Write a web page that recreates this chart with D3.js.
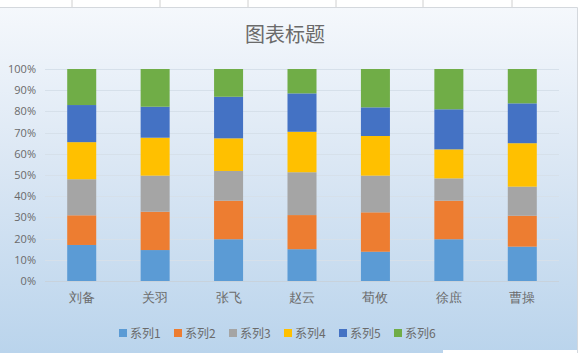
<!DOCTYPE html>
<html>
<head>
<meta charset="utf-8">
<script src="https://cdn.jsdelivr.net/npm/d3@7"></script>
<style>
  body { margin: 0; background: #fff; }
  svg { display: block; font-family: "Noto Sans CJK SC", "Noto Sans", sans-serif; }
</style>
</head>
<body>
<div id="chart"></div>
<script>
const categories = ["刘备", "关羽", "张飞", "赵云", "荀攸", "徐庶", "曹操"];
const seriesNames = ["系列1", "系列2", "系列3", "系列4", "系列5", "系列6"];
const s1 = [17, 14.6, 19.7, 15, 13.8, 19.7, 16.2];
const s2 = [14, 18.1, 18.2, 16.1, 18.6, 18.2, 14.6];
const s3 = [17, 17, 14, 20.2, 17.3, 10.5, 13.7];
const s4 = [17.5, 17.9, 15.4, 19.1, 18.7, 13.7, 20.5];
const s5 = [17.5, 14.6, 19.6, 18.1, 13.5, 18.9, 18.8];
const s6 = [17, 17.8, 13.1, 11.5, 18.1, 19, 16.2];
const yTicks = [0, 0.1, 0.2, 0.3, 0.4, 0.5, 0.6, 0.7, 0.8, 0.9, 1];
const colors = ["#5b9bd5", "#ed7d31", "#a5a5a5", "#ffc000", "#4472c4", "#70ad47"];

function drawChart() {
  const width = 580, height = 353;
  const svg = d3.select("#chart").append("svg")
    .attr("width", width)
    .attr("height", height);

  // gradient background like Excel style
  const grad = svg.append("defs").append("linearGradient")
    .attr("id", "bg").attr("x1", 0).attr("y1", 0).attr("x2", 0).attr("y2", 1);
  grad.append("stop").attr("offset", "0%").attr("stop-color", "#f5f8fc");
  grad.append("stop").attr("offset", "45%").attr("stop-color", "#dbe7f4");
  grad.append("stop").attr("offset", "100%").attr("stop-color", "#bad4ec");

  // spreadsheet cell lines above the chart
  svg.selectAll(".cell")
    .data([72, 160, 248, 336, 423, 512])
    .join("line")
    .attr("x1", d => d).attr("x2", d => d)
    .attr("y1", 0).attr("y2", 8)
    .attr("stroke", "#d0d0d0");

  svg.append("rect")
    .attr("x", 0).attr("y", 7)
    .attr("width", 577).attr("height", 346)
    .attr("fill", "url(#bg)");
  svg.append("path")
    .attr("d", "M0,7.5H577.5V353")
    .attr("fill", "none")
    .attr("stroke", "#d4d8dd");
  svg.append("rect")
    .attr("x", 443).attr("y", 350)
    .attr("width", 134).attr("height", 3)
    .attr("fill", "#fff");

  svg.append("text")
    .attr("x", 285).attr("y", 42)
    .attr("text-anchor", "middle")
    .attr("font-size", 20)
    .attr("fill", "#6a6a6a")
    .text("图表标题");

  const x = d3.scaleBand().domain(categories).range([45, 559])
    .paddingInner(0.605).paddingOuter(0.3025);
  const y = d3.scaleLinear().domain([0, 1]).range([281, 69]);

  // gridlines
  svg.append("g").selectAll("line")
    .data(yTicks)
    .join("line")
    .attr("x1", 45).attr("x2", 559)
    .attr("y1", d => Math.round(y(d)) + 0.5).attr("y2", d => Math.round(y(d)) + 0.5)
    .attr("stroke", d => d === 0 ? "#c8d2dc" : "#d6e0ea");

  const yAxis = svg.append("g")
    .attr("transform", "translate(38,0)")
    .call(d3.axisLeft(y).tickValues(yTicks).tickFormat(d3.format(".0%")).tickSize(0).tickPadding(2));
  yAxis.select(".domain").remove();
  yAxis.selectAll("text")
    .attr("font-size", 11)
    .attr("fill", "#6a6a6a")
    .attr("font-family", "'Open Sans', sans-serif");

  const table = categories.map((c, i) => {
    const row = { cat: c };
    [s1, s2, s3, s4, s5, s6].forEach((s, j) => row[seriesNames[j]] = s[i]);
    return row;
  });
  const stacked = d3.stack().keys(seriesNames).offset(d3.stackOffsetExpand)(table);

  svg.append("g").selectAll("g")
    .data(stacked)
    .join("g")
    .attr("fill", (d, i) => colors[i])
    .selectAll("rect")
    .data(d => d)
    .join("rect")
    .attr("x", d => x(d.data.cat))
    .attr("y", d => y(d[1]))
    .attr("width", x.bandwidth())
    .attr("height", d => y(d[0]) - y(d[1]));

  const xAxis = svg.append("g")
    .attr("transform", "translate(0,281)")
    .call(d3.axisBottom(x).tickSize(0).tickPadding(12));
  xAxis.select(".domain").remove();
  xAxis.selectAll("text")
    .attr("font-size", 13)
    .attr("fill", "#6a6a6a");

  const legend = svg.append("g").selectAll("g")
    .data(seriesNames)
    .join("g")
    .attr("transform", (d, i) => `translate(${119 + i * 55},329)`);
  legend.append("rect")
    .attr("width", 8).attr("height", 8)
    .attr("fill", (d, i) => colors[i]);
  legend.append("text")
    .attr("x", 11).attr("y", 9)
    .attr("font-size", 12)
    .attr("fill", "#6a6a6a")
    .text(d => d);
}

drawChart();
</script>
</body>
</html>
